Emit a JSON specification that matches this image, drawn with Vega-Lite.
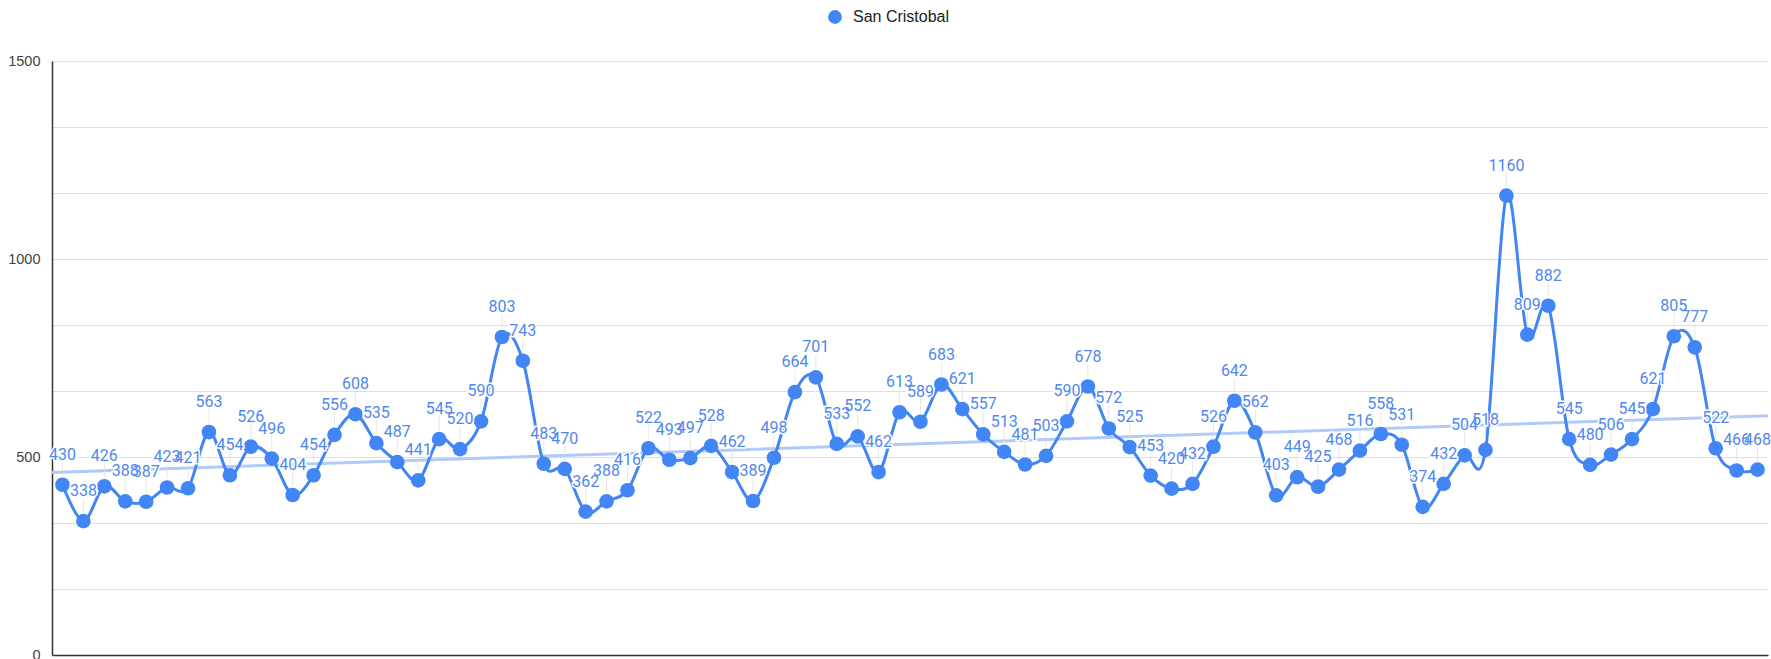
{
  "$schema": "https://vega.github.io/schema/vega-lite/v6.json",
  "autosize": "none",
  "width": 1716,
  "height": 594,
  "padding": {"left": 52, "top": 61, "right": 3, "bottom": 4},
  "background": "white",
  "config": {"view": {"stroke": null}},
  "data": {"values": [
    {"i":1,"v":430},{"i":2,"v":338},{"i":3,"v":426},{"i":4,"v":388},{"i":5,"v":387},{"i":6,"v":423},{"i":7,"v":421},{"i":8,"v":563},{"i":9,"v":454},{"i":10,"v":526},
    {"i":11,"v":496},{"i":12,"v":404},{"i":13,"v":454},{"i":14,"v":556},{"i":15,"v":608},{"i":16,"v":535},{"i":17,"v":487},{"i":18,"v":441},{"i":19,"v":545},{"i":20,"v":520},
    {"i":21,"v":590},{"i":22,"v":803},{"i":23,"v":743},{"i":24,"v":483},{"i":25,"v":470},{"i":26,"v":362},{"i":27,"v":388},{"i":28,"v":416},{"i":29,"v":522},{"i":30,"v":493},
    {"i":31,"v":497},{"i":32,"v":528},{"i":33,"v":462},{"i":34,"v":389},{"i":35,"v":498},{"i":36,"v":664},{"i":37,"v":701},{"i":38,"v":533},{"i":39,"v":552},{"i":40,"v":462},
    {"i":41,"v":613},{"i":42,"v":589},{"i":43,"v":683},{"i":44,"v":621},{"i":45,"v":557},{"i":46,"v":513},{"i":47,"v":481},{"i":48,"v":503},{"i":49,"v":590},{"i":50,"v":678},
    {"i":51,"v":572},{"i":52,"v":525},{"i":53,"v":453},{"i":54,"v":420},{"i":55,"v":432},{"i":56,"v":526},{"i":57,"v":642},{"i":58,"v":562},{"i":59,"v":403},{"i":60,"v":449},
    {"i":61,"v":425},{"i":62,"v":468},{"i":63,"v":516},{"i":64,"v":558},{"i":65,"v":531},{"i":66,"v":374},{"i":67,"v":432},{"i":68,"v":504},{"i":69,"v":518},{"i":70,"v":1160},
    {"i":71,"v":809},{"i":72,"v":882},{"i":73,"v":545},{"i":74,"v":480},{"i":75,"v":506},{"i":76,"v":545},{"i":77,"v":621},{"i":78,"v":805},{"i":79,"v":777},{"i":80,"v":522},
    {"i":81,"v":466},{"i":82,"v":468}
  ]},
  "encoding": {
    "x": {"field": "i", "type": "quantitative",
      "scale": {"domain": [0.5, 82.5], "nice": false, "zero": false},
      "axis": {"title": null, "labels": false, "ticks": false, "grid": false, "domainColor": "#333333", "domainWidth": 1.5}},
    "y": {"field": "v", "type": "quantitative",
      "scale": {"domain": [0, 1500], "nice": false},
      "axis": {"title": null, "values": [0, 166.6667, 333.3333, 500, 666.6667, 833.3333, 1000, 1166.6667, 1333.3333, 1500],
        "labelExpr": "abs(datum.value % 500) < 0.01 ? format(datum.value, 'd') : ''",
        "ticks": false, "labelPadding": 12, "labelFont": "Liberation Sans", "labelFontSize": 14.5, "labelColor": "#444444",
        "gridColor": "#e0e0e0", "gridWidth": 1, "domainColor": "#333333", "domainWidth": 1.5}}
  },
  "layer": [
    {
      "transform": [{"regression": "v", "on": "i", "extent": [0.5, 82.5]}],
      "mark": {"type": "line", "color": "#b0cbf9", "strokeWidth": 3}
    },
    {
      "mark": {"type": "line", "color": "#4285f4", "strokeWidth": 3, "interpolate": "cardinal"}
    },
    {
      "mark": {"type": "tick", "orient": "vertical", "color": "#dddddd", "thickness": 1, "size": 14, "yOffset": -16}
    },
    {
      "mark": {"type": "point", "filled": true, "opacity": 1, "size": 215, "shape": "circle"},
      "encoding": {
        "color": {"datum": "San Cristobal", "type": "nominal", "scale": {"range": ["#4285f4"]},
          "legend": {"title": null, "orient": "none", "legendX": 775, "legendY": -52, "padding": 0,
            "symbolType": "circle", "symbolSize": 190, "labelFont": "Liberation Sans", "labelFontSize": 16,
            "labelColor": "#222222", "labelOffset": 10}}
      }
    },
    {
      "mark": {"type": "text", "font": "Roboto", "fontSize": 16, "baseline": "alphabetic", "dy": -25, "stroke": "white", "strokeWidth": 3, "fill": "white"},
      "encoding": {"text": {"field": "v", "type": "quantitative", "format": "d"}}
    },
    {
      "mark": {"type": "text", "font": "Roboto", "fontSize": 16, "baseline": "alphabetic", "dy": -25, "color": "#4f88ee"},
      "encoding": {"text": {"field": "v", "type": "quantitative", "format": "d"}}
    }
  ]
}
